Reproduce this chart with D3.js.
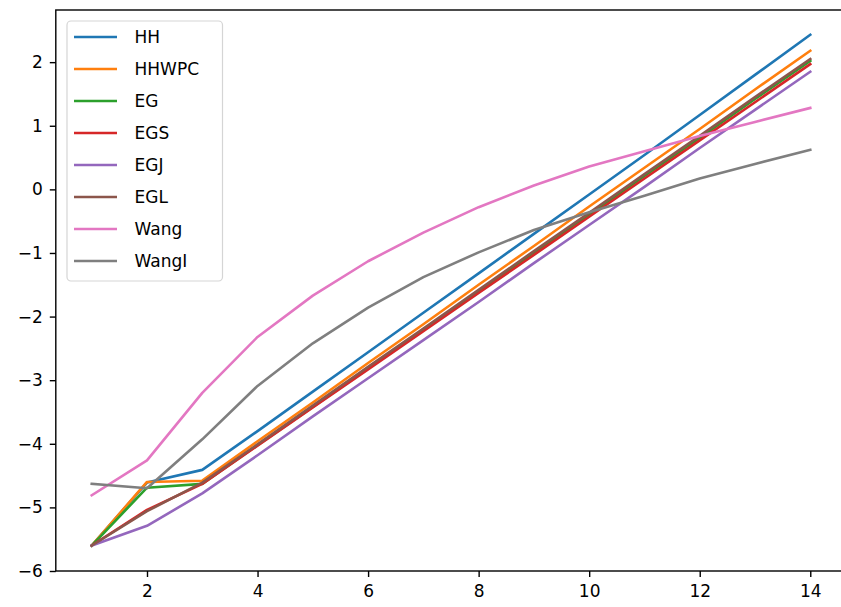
<html>
<head>
  <meta charset="utf-8" />
  <script src="https://d3js.org/d3.v7.min.js"></script>
</head>
<body style="margin: 0; background: white">
<script>

// data
var xs = [1, 2, 3, 4, 5, 6, 7, 8, 9, 10, 11, 12, 13, 14]
var names = ['HH', 'HHWPC', 'EG', 'EGS', 'EGJ', 'EGL', 'Wang', 'WangI']
var colors = ['#1f77b4', '#ff7f0e', '#2ca02c', '#d62728', '#9467bd', '#8c564b', '#e377c2', '#7f7f7f']

var hh    = [-5.60, -4.61, -4.41, -3.80, -3.18, -2.56, -1.94, -1.32, -0.70, -0.08, 0.54, 1.17, 1.80, 2.43]
var hhwpc = [-5.60, -4.60, -4.58, -3.96, -3.35, -2.73, -2.12, -1.50, -0.89, -0.27, 0.34, 0.95, 1.57, 2.18]
var eg    = [-5.60, -4.69, -4.63, -4.02, -3.42, -2.81, -2.21, -1.60, -1.00, -0.40, 0.21, 0.81, 1.42, 2.02]
var egs   = [-5.60, -5.04, -4.63, -4.03, -3.43, -2.83, -2.23, -1.63, -1.03, -0.43, 0.17, 0.77, 1.37, 1.97]
var egj   = [-5.60, -5.29, -4.78, -4.18, -3.57, -2.97, -2.37, -1.77, -1.16, -0.56, 0.04, 0.65, 1.25, 1.85]
var egl   = [-5.60, -5.06, -4.61, -4.01, -3.40, -2.79, -2.19, -1.58, -0.97, -0.37, 0.24, 0.84, 1.45, 2.05]
var wang  = [-4.81, -4.26, -3.20, -2.32, -1.67, -1.13, -0.68, -0.28, 0.06, 0.36, 0.60, 0.84, 1.06, 1.28]
var wangI = [-4.63, -4.70, -3.93, -3.09, -2.42, -1.86, -1.38, -0.99, -0.64, -0.36, -0.10, 0.17, 0.40, 0.62]

var series = [hh, hhwpc, eg, egs, egj, egl, wang, wangI]

var xTicks = [2, 4, 6, 8, 10, 12, 14]
var yTicks = [-6, -5, -4, -3, -2, -1, 0, 1, 2]

var width = 841, height = 607
var axLeft = 55.8, axRight = 846.2, axTop = 10, axBottom = 571

var svg = d3.select("body").append("svg")
  .attr("width", width)
  .attr("height", height)
  .style("font-family", "DejaVu Sans")

var x = d3.scaleLinear().domain([0.35, 14.65]).range([axLeft, axRight])
var y = d3.scaleLinear().domain([-6, 2.82]).range([axBottom, axTop])

var fmt = function(d) { return d < 0 ? '\u2212' + Math.abs(d) : '' + d }

// lines
var line = d3.line()
  .x(function(d, i) { return x(xs[i]) })
  .y(function(d) { return y(d) })

svg.append("g").selectAll("path")
  .data(series)
  .enter().append("path")
  .attr("d", line)
  .attr("fill", "none")
  .attr("stroke", function(d, i) { return colors[i] })
  .attr("stroke-width", 2.6)
  .attr("stroke-linecap", "square")
  .attr("stroke-linejoin", "round")

// spines
svg.append("rect")
  .attr("x", axLeft).attr("y", axTop)
  .attr("width", axRight - axLeft).attr("height", axBottom - axTop)
  .attr("fill", "none")
  .attr("stroke", "black")
  .attr("stroke-width", 1.4)

// axes
var xAxis = svg.append("g")
  .attr("transform", "translate(0," + axBottom + ")")
  .call(d3.axisBottom(x).tickValues(xTicks).tickFormat(fmt).tickSize(6).tickPadding(8).tickSizeOuter(0))
xAxis.select(".domain").remove()

var yAxis = svg.append("g")
  .attr("transform", "translate(" + axLeft + ",0)")
  .call(d3.axisLeft(y).tickValues(yTicks).tickFormat(fmt).tickSize(6).tickPadding(7).tickSizeOuter(0))
yAxis.select(".domain").remove()

svg.selectAll(".tick line").attr("stroke", "black").attr("stroke-width", 1.4)
svg.selectAll(".tick text")
  .attr("fill", "black")
  .style("font-family", "DejaVu Sans")
  .style("font-size", "17px")

// legend
var legend = svg.append("g")
legend.append("rect")
  .attr("x", 67).attr("y", 21)
  .attr("width", 155.5).attr("height", 260)
  .attr("rx", 4)
  .attr("fill", "white").attr("fill-opacity", 0.8)
  .attr("stroke", "#d5d5d5").attr("stroke-width", 1.2)

var items = legend.selectAll(".item")
  .data(names)
  .enter().append("g")
  .attr("transform", function(d, i) { return "translate(0," + (37 + i * 32.0) + ")" })

items.append("line")
  .attr("x1", 74).attr("x2", 117)
  .attr("stroke", function(d, i) { return colors[i] })
  .attr("stroke-width", 2.6)

items.append("text")
  .attr("x", 134.5)
  .attr("dy", "0.36em")
  .style("font-size", "17px")
  .attr("fill", "black")
  .text(function(d) { return d })

</script>
</body>
</html>
